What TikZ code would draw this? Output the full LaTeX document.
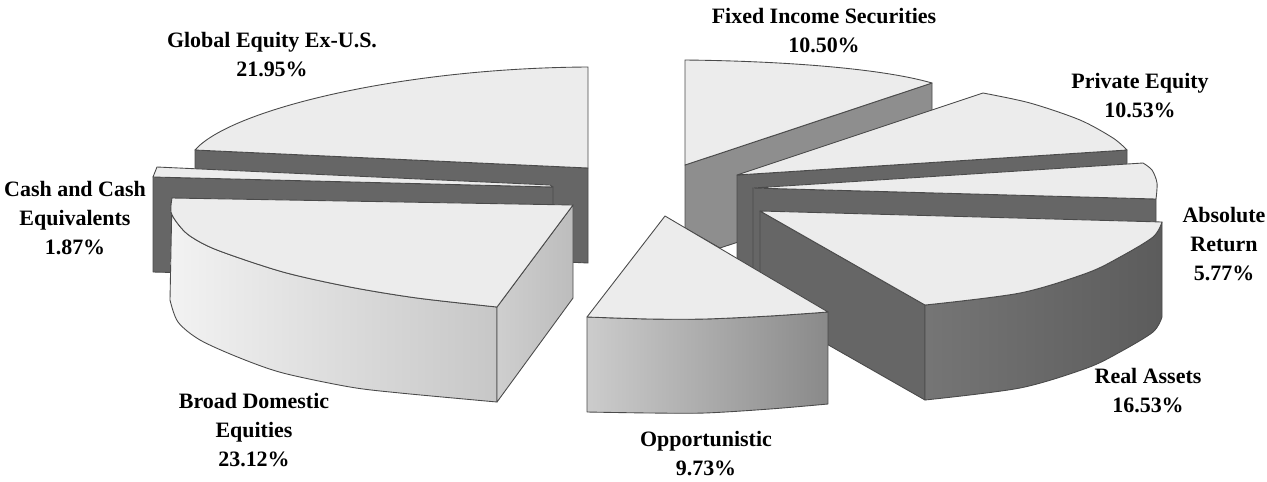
\documentclass[tikz,border=0pt]{standalone}
\usepackage{fontspec}
\setmainfont{Liberation Serif}
\definecolor{pietop}{HTML}{ECECEC}
\definecolor{pieedge}{HTML}{4A4A4A}
\definecolor{piedark}{HTML}{666666}
\definecolor{piemid}{HTML}{8E8E8E}

\begin{document}
\begin{tikzpicture}[x=0.02cm, y=-0.02cm,
    face/.style={draw=pieedge, line width=0.5pt, line join=round},
    topface/.style={face, fill=pietop},
    darkface/.style={face, fill=piedark},
    midface/.style={face, fill=piemid},
    pielabel/.style={font=\bfseries\fontsize{12.5}{16.5}\selectfont,
        align=center, inner sep=0pt}
]
    \useasboundingbox (0,0) rectangle (1267,481);

    \draw[darkface] (195,150) -- (588,168) -- (588,263) -- (195,245) -- cycle;
    \draw[topface] (588,168) -- (588,67) .. controls (400,68) and (230,110) .. (195,150) -- cycle;

    \draw[midface] (685,165) -- (932,83) -- (932,178) -- (720,248) -- (685,228) -- cycle;
    \draw[topface] (685,165) -- (685,60) .. controls (780,61) and (880,68) .. (932,83) -- cycle;

    \draw[darkface] (737,175) -- (1127,150) -- (1127,245) -- (737,270) -- cycle;
    \draw[topface] (737,175) -- (983,93) -- plot[smooth] coordinates {(983,93) (1030,103) (1080,120) (1113,138) (1127,150)} -- cycle;

    \draw[darkface] (753,188) -- (1156,199) -- (1156,294) -- (753,283) -- cycle;
    \draw[topface] (753,188) -- (1143,163) -- plot[smooth] coordinates {(1143,163) (1152,170) (1157,183) (1156,199)} -- cycle;

    \draw[darkface] (153,177) -- (553,187) -- (553,282) -- (153,272) -- cycle;
    \draw[topface] (153,177) -- (157,167) -- (550,185) -- (553,187) -- cycle;

    \draw[face, left color=white!95!black, right color=white!78!black] (172,198) -- plot[smooth] coordinates {(172,198) (171,212) (178,224) (190,236) (217,250) (283,272) (350,287) (417,298) (497,307)} -- (497,402) -- plot[smooth] coordinates {(497,402) (400,393) (350,387) (283,373) (240,358) (200,340) (178,322) (170,300)} -- cycle;
    \draw[face, left color=white!81!black, right color=white!74!black] (497,307) -- (573,205) -- (573,298) -- (497,402) -- cycle;
    \draw[topface] (573,205) -- (172,198) -- plot[smooth] coordinates {(172,198) (171,212) (178,224) (190,236) (217,250) (283,272) (350,287) (417,298) (497,307)} -- cycle;

    \draw[darkface] (760,211) -- (925,305) -- (925,400) -- (760,306) -- cycle;
    \draw[face, left color=white!46!black, middle color=white!39!black, right color=white!36!black] (925,305) -- plot[smooth] coordinates {(925,305) (1020,293) (1087,273) (1120,257) (1153,237) (1162,222)} -- (1162,317) -- plot[smooth] coordinates {(1162,317) (1153,332) (1120,352) (1087,368) (1020,388) (925,400)} -- cycle;
    \draw[topface] (760,211) -- (1162,222) -- plot[smooth] coordinates {(1162,222) (1153,237) (1120,257) (1087,273) (1020,293) (925,305)} -- cycle;

    \draw[face, left color=white!80!black, right color=white!54!black] (587,317) -- plot[smooth] coordinates {(587,317) (650,319) (705,319) (770,316) (828,312)} -- (828,404) -- plot[smooth] coordinates {(828,404) (770,409) (705,413) (650,413) (587,412)} -- cycle;
    \draw[topface] (665,216) -- (587,317) -- plot[smooth] coordinates {(587,317) (650,319) (705,319) (770,316) (828,312)} -- cycle;

    \node[pielabel] (global) at (272,55) {Global Equity Ex-U.S.\\21.95\%};
    \node[pielabel] (cash) at (75,218) {Cash and Cash\\Equivalents\\1.87\%};
    \node[pielabel] (broad) at (254,430) {Broad Domestic\\Equities\\23.12\%};
    \node[pielabel] (fixed) at (824,31) {Fixed Income Securities\\10.50\%};
    \node[pielabel] (private) at (1140,96) {Private Equity\\10.53\%};
    \node[pielabel] (absolute) at (1224,244) {Absolute\\Return\\5.77\%};
    \node[pielabel] (real) at (1148,391) {Real Assets\\16.53\%};
    \node[pielabel] (opport) at (706,454) {Opportunistic\\9.73\%};
\end{tikzpicture}
\end{document}
